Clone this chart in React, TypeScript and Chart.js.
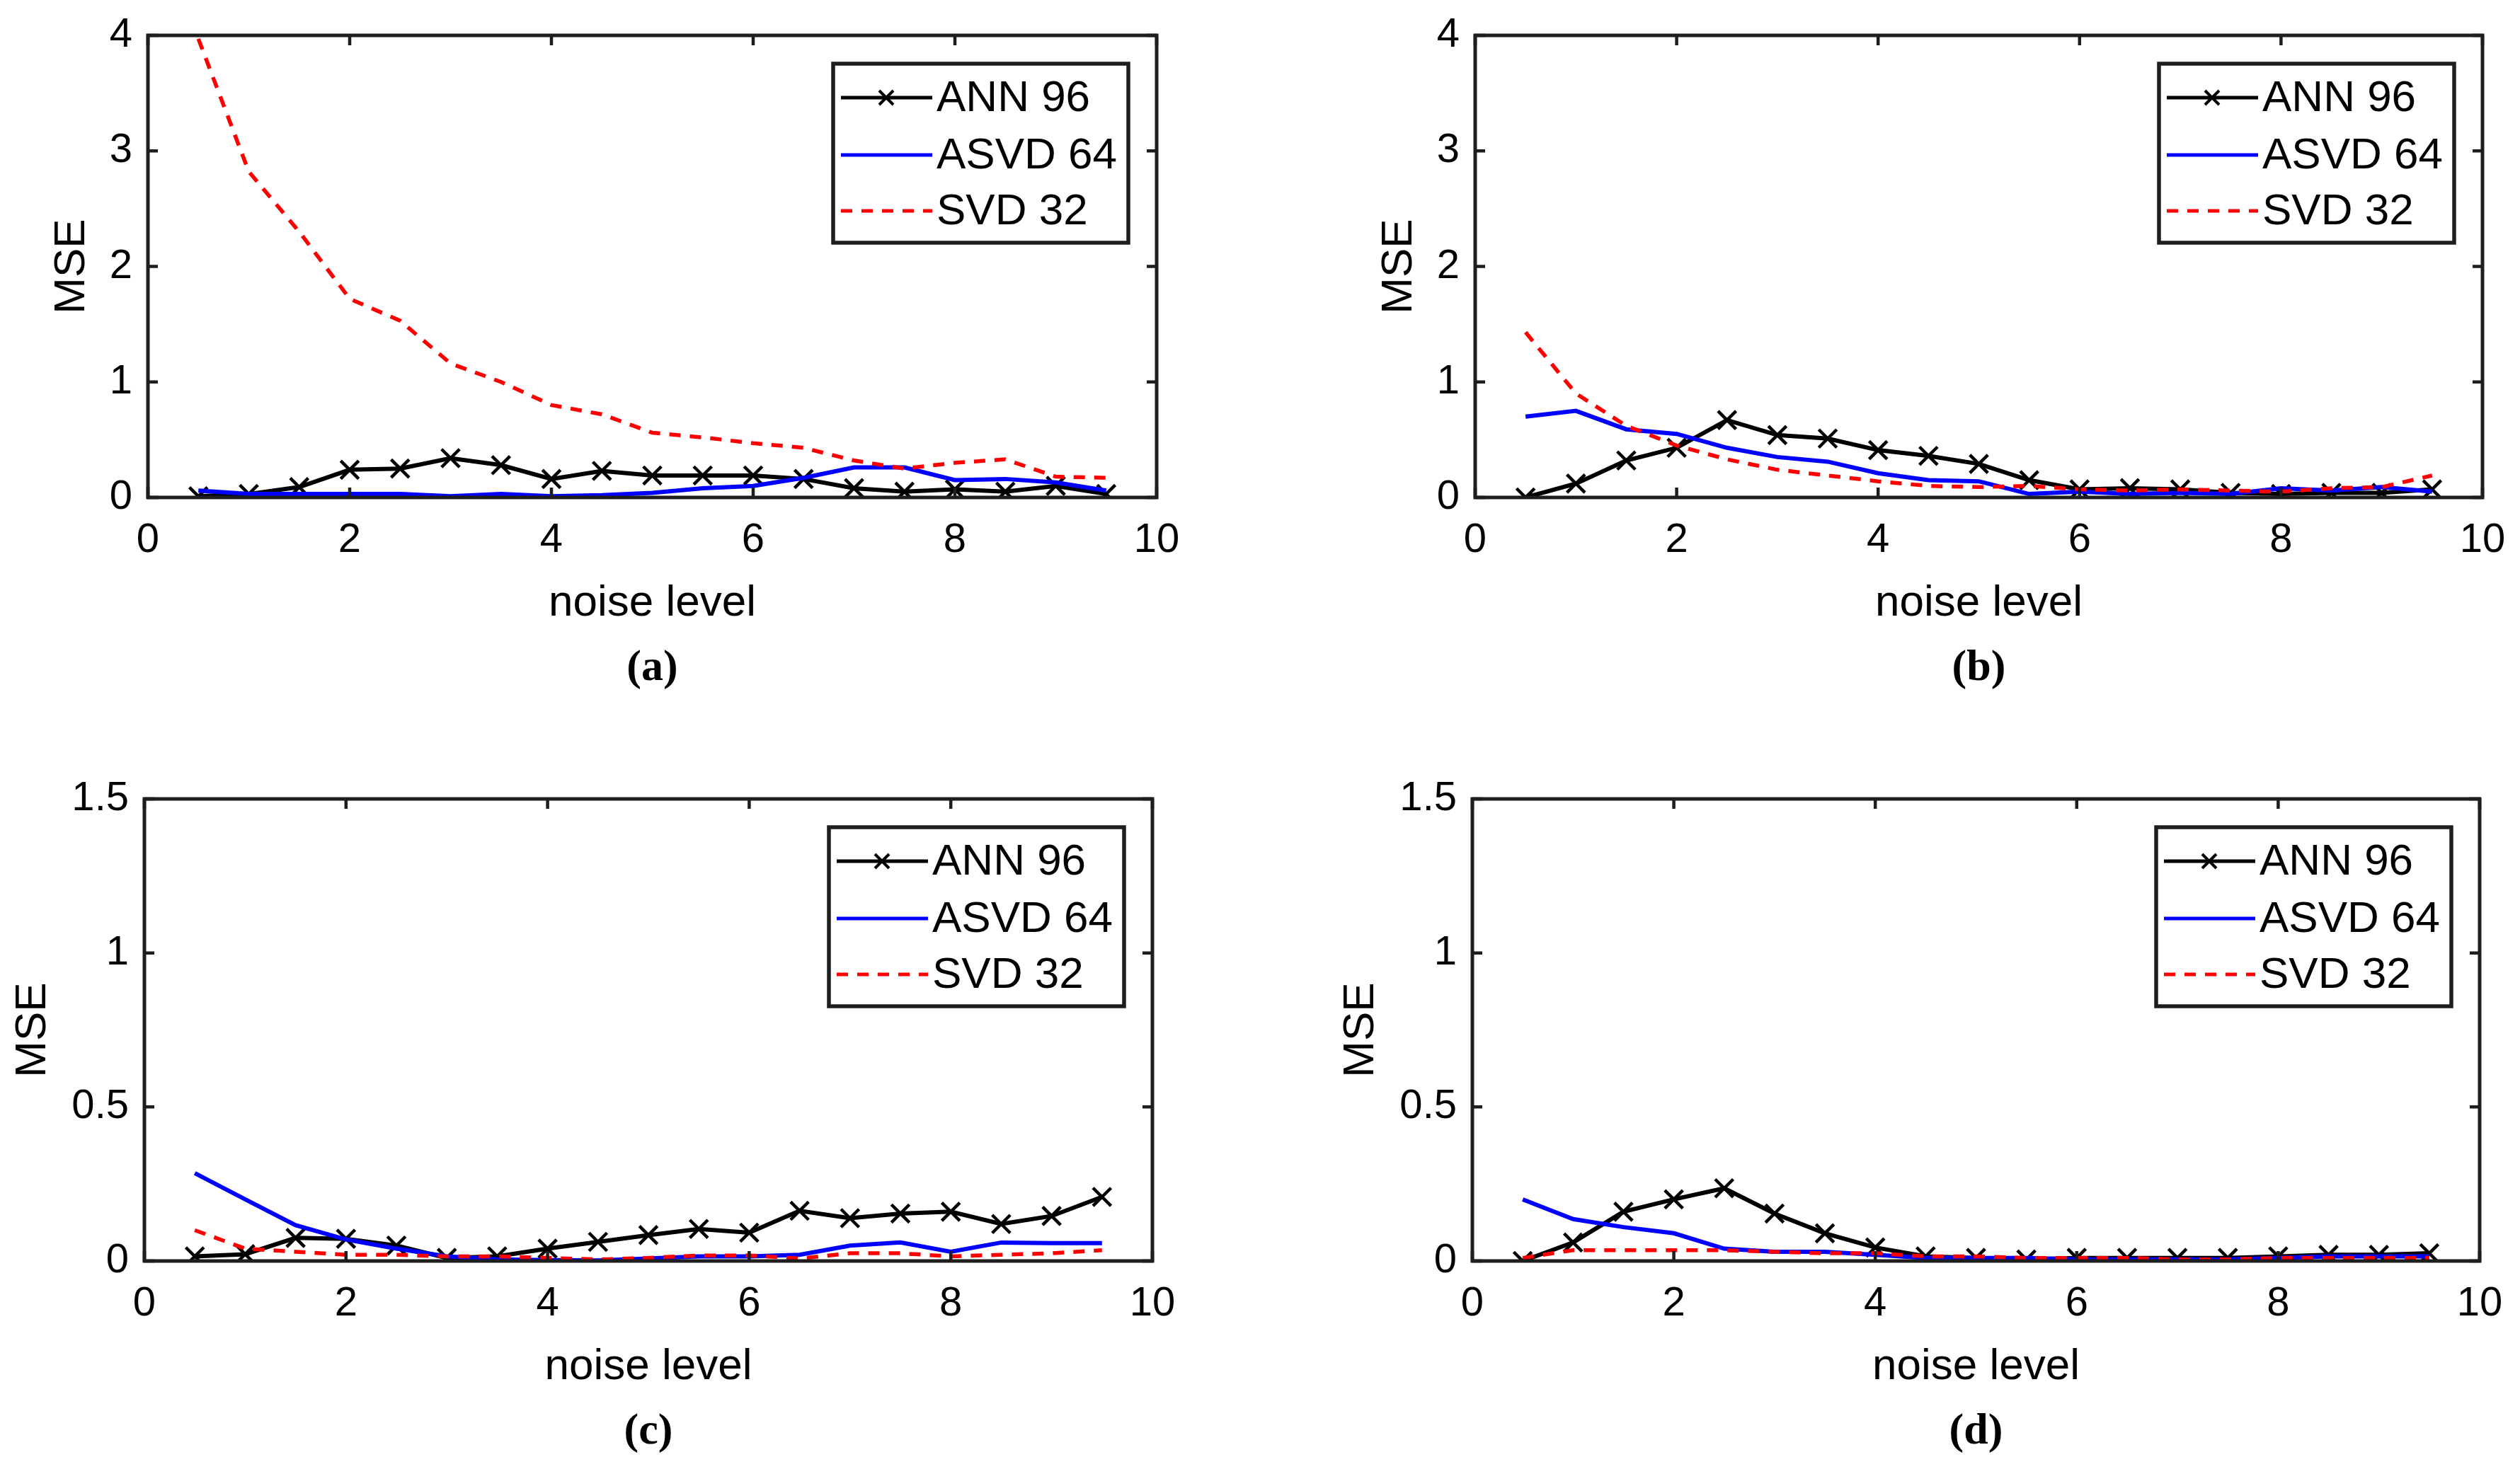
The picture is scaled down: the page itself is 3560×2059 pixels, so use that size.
import React, { useEffect, useRef } from "react";
import Chart from "chart.js/auto";

// noise levels shared by all four panels
const noiseLevels = [0.5, 1, 1.5, 2, 2.5, 3, 3.5, 4, 4.5, 5, 5.5, 6, 6.5, 7, 7.5, 8, 8.5, 9, 9.5];
const seriesNames = ["ANN 96", "ASVD 64", "SVD 32"];

// (a)
const annA = [0.01, 0.03, 0.09, 0.24, 0.25, 0.34, 0.28, 0.16, 0.23, 0.19, 0.19, 0.19, 0.16, 0.08, 0.05, 0.07, 0.05, 0.1, 0.03];
const asvdA = [0.06, 0.03, 0.03, 0.03, 0.03, 0.01, 0.03, 0.01, 0.02, 0.04, 0.08, 0.1, 0.17, 0.26, 0.26, 0.15, 0.16, 0.13, 0.06];
const svdA = [3.97, 2.82, 2.3, 1.72, 1.53, 1.16, 1.0, 0.8, 0.72, 0.56, 0.52, 0.47, 0.43, 0.32, 0.25, 0.3, 0.33, 0.18, 0.17];

// (b)
const annB = [0.0, 0.12, 0.32, 0.43, 0.67, 0.54, 0.51, 0.41, 0.36, 0.29, 0.15, 0.07, 0.08, 0.07, 0.04, 0.03, 0.04, 0.04, 0.07];
const asvdB = [0.7, 0.75, 0.59, 0.55, 0.43, 0.35, 0.31, 0.21, 0.15, 0.14, 0.03, 0.05, 0.03, 0.04, 0.03, 0.08, 0.06, 0.09, 0.05];
const svdB = [1.43, 0.9, 0.62, 0.45, 0.33, 0.24, 0.19, 0.14, 0.1, 0.09, 0.1, 0.07, 0.06, 0.07, 0.06, 0.05, 0.08, 0.09, 0.19];

// (c)
const annC = [0.015, 0.022, 0.075, 0.072, 0.05, 0.01, 0.015, 0.04, 0.062, 0.084, 0.104, 0.092, 0.163, 0.139, 0.154, 0.16, 0.12, 0.146, 0.208];
const asvdC = [0.285, 0.2, 0.116, 0.07, 0.04, 0.015, 0.005, 0.003, 0.002, 0.008, 0.015, 0.015, 0.02, 0.05, 0.06, 0.03, 0.06, 0.058, 0.058];
const svdC = [0.1, 0.04, 0.03, 0.02, 0.02, 0.015, 0.015, 0.01, 0.005, 0.01, 0.018, 0.018, 0.008, 0.025, 0.025, 0.015, 0.02, 0.025, 0.035];

// (d)
const annD = [0.0, 0.06, 0.16, 0.2, 0.236, 0.154, 0.09, 0.044, 0.015, 0.01, 0.005, 0.01, 0.01, 0.01, 0.01, 0.015, 0.02, 0.02, 0.025];
const asvdD = [0.2, 0.136, 0.11, 0.09, 0.04, 0.03, 0.03, 0.02, 0.01, 0.01, 0.01, 0.005, 0.005, 0.005, 0.005, 0.01, 0.015, 0.015, 0.015];
const svdD = [0.01, 0.035, 0.035, 0.035, 0.035, 0.03, 0.025, 0.025, 0.015, 0.015, 0.01, 0.01, 0.01, 0.005, 0.005, 0.01, 0.01, 0.01, 0.01];

// tick labels
const xTicks = [0, 2, 4, 6, 8, 10];
const yTicksTop = [0, 1, 2, 3, 4];
const yTicksBottom = [0, 0.5, 1, 1.5];

const SANS = "'Liberation Sans', Arial, sans-serif";
const INK = "#1e1e1e";

type Box = { left: number; top: number; right: number; bottom: number };

interface PanelProps {
  plot: Box;
  padL: number;
  caption: string;
  yTicks: number[];
  ann: number[];
  asvd: number[];
  svd: number[];
}

const PAD_T = 40;
const PAD_R = 60;
const PAD_B = 187;

// box round the axes, inward ticks on all four sides, legend in the upper right
const framePlugin = {
  id: "frame",
  afterDatasetsDraw(chart: any) {
    const { ctx, chartArea: a, scales } = chart;
    const tl = 14;
    ctx.save();
    ctx.strokeStyle = INK;
    ctx.lineWidth = 5;
    ctx.setLineDash([]);
    ctx.strokeRect(a.left, a.top, a.right - a.left, a.bottom - a.top);
    ctx.lineWidth = 4.5;
    ctx.beginPath();
    scales.x.ticks.forEach((t: any) => {
      const px = scales.x.getPixelForValue(t.value);
      ctx.moveTo(px, a.bottom);
      ctx.lineTo(px, a.bottom - tl);
      ctx.moveTo(px, a.top);
      ctx.lineTo(px, a.top + tl);
    });
    scales.y.ticks.forEach((t: any) => {
      const py = scales.y.getPixelForValue(t.value);
      ctx.moveTo(a.left, py);
      ctx.lineTo(a.left + tl, py);
      ctx.moveTo(a.right, py);
      ctx.lineTo(a.right - tl, py);
    });
    ctx.stroke();

    // legend
    const w = 417;
    const h = 253;
    const bx = a.right - 40 - w;
    const by = a.top + 40;
    ctx.fillStyle = "#fff";
    ctx.fillRect(bx, by, w, h);
    ctx.lineWidth = 5.5;
    ctx.strokeStyle = INK;
    ctx.strokeRect(bx, by, w, h);
    const rows = [48, 129, 208];
    chart.data.datasets.forEach((ds: any, i: number) => {
      const y = by + rows[i];
      ctx.beginPath();
      ctx.strokeStyle = ds.borderColor;
      ctx.lineWidth = 5;
      ctx.setLineDash(ds.borderDash || []);
      ctx.moveTo(bx + 11, y);
      ctx.lineTo(bx + 140, y);
      ctx.stroke();
      ctx.setLineDash([]);
      if (ds.pointRadius > 0) {
        const cx = bx + 75;
        const r = 10;
        ctx.lineWidth = 4;
        ctx.strokeStyle = ds.pointBorderColor;
        ctx.beginPath();
        ctx.moveTo(cx - r, y - r);
        ctx.lineTo(cx + r, y + r);
        ctx.moveTo(cx - r, y + r);
        ctx.lineTo(cx + r, y - r);
        ctx.stroke();
      }
      ctx.fillStyle = "#000";
      ctx.font = `62px ${SANS}`;
      ctx.textBaseline = "middle";
      ctx.textAlign = "left";
      ctx.fillText(ds.label, bx + 146, y + 2);
    });
    ctx.restore();
  },
};

const Panel = ({ plot, padL, caption, yTicks, ann, asvd, svd }: PanelProps) => {
  const canvasRef = useRef<HTMLCanvasElement | null>(null);
  const chartRef = useRef<Chart | null>(null);

  const yMax = yTicks[yTicks.length - 1];
  const plotW = plot.right - plot.left;
  const plotH = plot.bottom - plot.top;

  useEffect(() => {
    if (!canvasRef.current) return;
    if (chartRef.current) chartRef.current.destroy();

    const points = (vals: number[]) => noiseLevels.map((x, i) => ({ x, y: vals[i] }));

    chartRef.current = new Chart(canvasRef.current, {
      type: "line",
      data: {
        datasets: [
          {
            label: seriesNames[0],
            data: points(ann),
            borderColor: "#000000",
            borderWidth: 6,
            pointStyle: "crossRot",
            pointRadius: 18,
            pointBorderWidth: 4.5,
            pointBorderColor: "#000000",
            pointBackgroundColor: "#000000",
            tension: 0,
            order: 3,
          },
          {
            label: seriesNames[1],
            data: points(asvd),
            borderColor: "#0000ff",
            borderWidth: 6,
            pointRadius: 0,
            tension: 0,
            order: 2,
          },
          {
            label: seriesNames[2],
            data: points(svd),
            borderColor: "#ff0000",
            borderWidth: 5.5,
            borderDash: [16, 13],
            pointRadius: 0,
            tension: 0,
            order: 1,
          },
        ],
      },
      options: {
        animation: false,
        responsive: true,
        maintainAspectRatio: false,
        layout: { padding: { top: PAD_T, right: PAD_R, left: 0, bottom: 0 } },
        plugins: {
          legend: { display: false },
          tooltip: { enabled: false },
        },
        scales: {
          x: {
            type: "linear",
            min: 0,
            max: 10,
            afterBuildTicks: (s: any) => {
              s.ticks = xTicks.map((value) => ({ value }));
            },
            afterFit: (s: any) => {
              s.height = PAD_B;
              s.paddingLeft = 0;
              s.paddingRight = 0;
            },
            grid: { display: false, drawTicks: false },
            border: { display: false },
            ticks: {
              autoSkip: false,
              maxRotation: 0,
              padding: 26,
              color: "#000",
              font: { family: SANS, size: 58 },
              callback: (v: any) => String(v),
            },
            title: {
              display: true,
              text: "noise level",
              color: "#000",
              padding: 0,
              font: { family: SANS, size: 62 },
            },
          },
          y: {
            type: "linear",
            min: 0,
            max: yMax,
            afterBuildTicks: (s: any) => {
              s.ticks = yTicks.map((value) => ({ value }));
            },
            afterFit: (s: any) => {
              s.width = padL;
              s.paddingTop = 0;
              s.paddingBottom = 0;
            },
            grid: { display: false, drawTicks: false },
            border: { display: false },
            ticks: {
              autoSkip: false,
              padding: 22,
              color: "#000",
              font: { family: SANS, size: 58 },
              callback: (v: any) => String(v),
            },
            title: {
              display: true,
              text: "MSE",
              color: "#000",
              padding: 0,
              font: { family: SANS, size: 62 },
            },
          },
        },
      },
      plugins: [framePlugin],
    } as any);

    return () => {
      if (chartRef.current) {
        chartRef.current.destroy();
        chartRef.current = null;
      }
    };
  }, [plot, padL, yTicks, ann, asvd, svd, yMax]);

  return (
    <>
      <div
        style={{
          position: "absolute",
          left: plot.left - padL,
          top: plot.top - PAD_T,
          width: plotW + padL + PAD_R,
          height: plotH + PAD_T + PAD_B,
        }}
      >
        <canvas ref={canvasRef}></canvas>
      </div>
      {/* caption under the panel */}
      <div
        style={{
          position: "absolute",
          left: plot.left,
          width: plotW,
          top: plot.bottom + PAD_B + 15,
          textAlign: "center",
          fontFamily: "'Liberation Serif', 'Times New Roman', serif",
          fontWeight: "bold",
          fontSize: 62,
          lineHeight: "70px",
          color: "#000",
        }}
      >
        {caption}
      </div>
    </>
  );
};

const panelA = { left: 209, top: 50, right: 1634, bottom: 703 };
const panelB = { left: 2084, top: 50, right: 3507, bottom: 703 };
const panelC = { left: 204, top: 1129, right: 1628, bottom: 1782 };
const panelD = { left: 2080, top: 1129, right: 3503, bottom: 1782 };

export default function App() {
  return (
    <div
      style={{
        position: "absolute",
        left: 0,
        top: 0,
        width: 3560,
        height: 2059,
        background: "#fff",
        overflow: "hidden",
      }}
    >
      <Panel plot={panelA} padL={144} caption="(a)" yTicks={yTicksTop} ann={annA} asvd={asvdA} svd={svdA} />
      <Panel plot={panelB} padL={144} caption="(b)" yTicks={yTicksTop} ann={annB} asvd={asvdB} svd={svdB} />
      <Panel plot={panelC} padL={194} caption="(c)" yTicks={yTicksBottom} ann={annC} asvd={asvdC} svd={svdC} />
      <Panel plot={panelD} padL={194} caption="(d)" yTicks={yTicksBottom} ann={annD} asvd={asvdD} svd={svdD} />
    </div>
  );
}
